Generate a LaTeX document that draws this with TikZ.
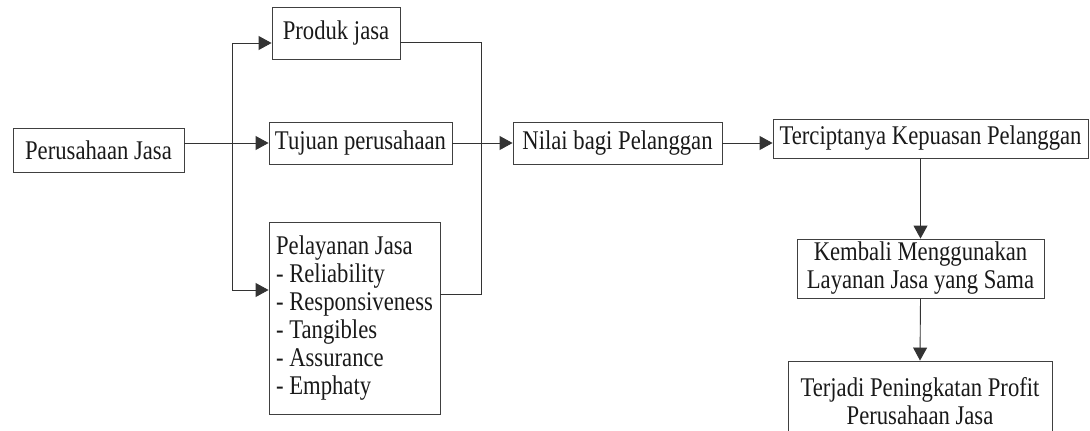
\documentclass[tikz,border=0pt]{standalone}
\usepackage{fontspec}
\setmainfont{Liberation Serif}[FakeStretch=0.84]
\usetikzlibrary{arrows.meta}

\begin{document}
\begin{tikzpicture}[x=1pt,y=-1pt,
        box/.style={draw=black!75, line width=0.9pt, text=black!90, inner sep=0pt, align=center},
        link/.style={draw=black!80, line width=0.9pt},
        arrow/.style={link, -{Triangle[length=13pt,width=14pt]}}]
        \tikzstyle{every node}=[font=\fontsize{27}{28}\selectfont]
        \clip (0,0) rectangle (1090,431);

        \node[box, minimum width=171pt, minimum height=44pt] (perusahaan) at (98.5,150) {Perusahaan Jasa};
        \node[box, minimum width=128pt, minimum height=52pt] (produk) at (336,33) {Produk jasa};
        \node[box, minimum width=183pt, minimum height=42pt] (tujuan) at (360.5,143) {Tujuan perusahaan};
        \node[box, minimum width=171pt, minimum height=192pt, align=left] (pelayanan) at (354.5,318)
            {Pelayanan Jasa\\- Reliability\\- Responsiveness\\- Tangibles\\- Assurance\\- Emphaty};
        \node[box, minimum width=209pt, minimum height=42pt] (nilai) at (617.5,143) {Nilai bagi Pelanggan};
        \node[box, minimum width=315pt, minimum height=39pt] (tercipta) at (930.5,138.5) {Terciptanya Kepuasan Pelanggan};
        \node[box, minimum width=247pt, minimum height=59pt] (kembali) at (920.5,268.5)
            {Kembali Menggunakan\\Layanan Jasa yang Sama};
        \node[box, minimum width=264pt, minimum height=80pt] (terjadi) at (920,401)
            {Terjadi Peningkatan Profit\\Perusahaan Jasa};

        \coordinate (split) at (232,143);
        \coordinate (merge) at (481,143);

        % branching to the three aspects
        \draw[arrow] (perusahaan.east |- tujuan) -- (tujuan.west);
        \draw[arrow] (split) |- ([yshift=-10pt]produk.west);
        \draw[arrow] (split) |- ([yshift=28pt]pelayanan.west);

        % joining into customer value
        \draw[link] ([yshift=-9pt]produk.east) -| (merge);
        \draw[link] ([yshift=24pt]pelayanan.east) -| (merge);
        \draw[link] (tujuan.east) -- (merge);
        \draw[arrow] (merge) -- (nilai.west);

        \draw[arrow] (nilai.east) -- (nilai.east -| tercipta.west);
        \draw[arrow] (tercipta.south -| kembali) -- (kembali.north);
        \draw[arrow] (kembali.south) -- (terjadi.north);
\end{tikzpicture}
\end{document}
